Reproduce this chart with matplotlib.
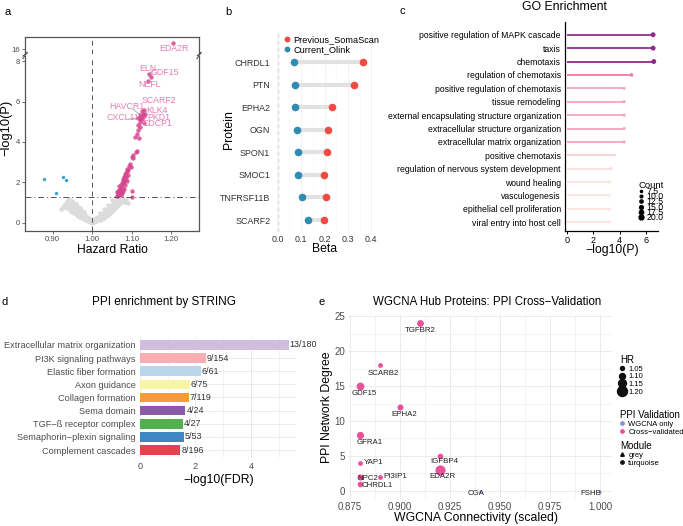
import numpy as np
import matplotlib
matplotlib.use('Agg')
import matplotlib.pyplot as plt
from matplotlib.lines import Line2D
from matplotlib.colors import LinearSegmentedColormap, Normalize

plt.rcParams['font.family'] = ['Liberation Sans', 'DejaVu Sans']

# ---------------- data ----------------
# a: volcano (hazard ratio vs -log10 P)
grey_hr = [0.92, 0.925, 0.93, 0.93, 0.935, 0.935, 0.94, 0.94, 0.94, 0.945, 0.945, 0.945,
           0.95, 0.95, 0.95, 0.95, 0.955, 0.955, 0.955, 0.96, 0.96, 0.96, 0.96, 0.965, 0.965,
           0.965, 0.97, 0.97, 0.97, 0.97, 0.975, 0.975, 0.975, 0.98, 0.98, 0.98, 0.98, 0.985,
           0.985, 0.985, 0.99, 0.99, 0.99, 0.995, 0.995, 0.995, 1.0, 1.0, 1.0, 1.005, 1.005,
           1.005, 1.01, 1.01, 1.01, 1.015, 1.015, 1.015, 1.02, 1.02, 1.02, 1.02, 1.025, 1.025,
           1.025, 1.03, 1.03, 1.03, 1.03, 1.035, 1.035, 1.035, 1.04, 1.04, 1.04, 1.04, 1.045,
           1.045, 1.045, 1.05, 1.05, 1.05, 1.05, 1.055, 1.055, 1.055, 1.06, 1.06, 1.06, 1.06,
           1.065, 1.065, 1.065, 1.07, 1.07, 1.07, 1.075, 1.075, 1.075, 1.08, 1.08, 1.085,
           1.085, 1.09]
grey_p = [0.7, 0.8, 0.95, 0.8, 1.1, 0.75, 0.9, 1.2, 1.05, 0.65, 1.0, 0.8,
          0.55, 0.85, 1.1, 0.7, 0.5, 0.75, 0.95, 0.45, 0.7, 0.95, 0.55, 0.35, 0.6,
          0.8, 0.3, 0.5, 0.75, 0.4, 0.25, 0.45, 0.6, 0.2, 0.35, 0.55, 0.45, 0.15,
          0.3, 0.35, 0.1, 0.25, 0.18, 0.05, 0.2, 0.12, 0.02, 0.12, 0.07, 0.05, 0.18,
          0.12, 0.08, 0.25, 0.15, 0.12, 0.3, 0.2, 0.15, 0.35, 0.5, 0.25, 0.2, 0.45,
          0.35, 0.25, 0.5, 0.7, 0.4, 0.35, 0.65, 0.5, 0.4, 0.7, 0.9, 0.55, 0.5,
          0.85, 0.65, 0.6, 0.9, 1.15, 0.75, 0.7, 1.05, 0.85, 0.8, 1.1, 1.28, 0.95,
          0.9, 1.2, 1.05, 1.0, 1.25, 1.15, 1.1, 1.25, 1.2, 1.15, 1.05, 1.05,
          1.2, 1.0]

up_hr = [1.062, 1.064, 1.066, 1.068, 1.065, 1.07, 1.072, 1.07, 1.074, 1.068, 1.073, 1.076,
         1.075, 1.078, 1.077, 1.08, 1.079, 1.082, 1.081, 1.084, 1.085, 1.083, 1.087, 1.088,
         1.09, 1.086, 1.072, 1.076, 1.078, 1.08, 1.067, 1.082, 1.063, 1.09, 1.088,
         1.092, 1.095, 1.097, 1.1, 1.102, 1.104, 1.11, 1.113, 1.108, 1.112, 1.118, 1.115,
         1.12, 1.116, 1.1, 1.1, 1.12, 1.124, 1.128, 1.122, 1.13, 1.126]
up_p = [1.35, 1.45, 1.4, 1.5, 1.6, 1.45, 1.55, 1.7, 1.65, 1.8, 1.85, 1.75,
        1.95, 1.9, 2.05, 2.0, 2.15, 2.1, 2.25, 2.3, 2.45, 2.4, 2.55, 2.65,
        2.6, 2.2, 1.4, 1.5, 1.6, 1.7, 1.65, 1.85, 1.55, 2.35, 2.05,
        2.8, 2.9, 2.75, 3.25, 3.2, 3.35, 3.5, 3.55, 4.25, 4.4, 4.2, 4.6,
        4.75, 4.85, 1.58, 1.3, 5.0, 5.25, 5.4, 5.15, 5.3, 5.55]

down_hr = [0.879, 0.925, 0.934, 0.909]
down_p = [2.17, 2.29, 2.12, 1.5]

lab_genes = ['ELN', 'GDF15', 'NEFL', 'SCARF2', 'HAVCR1', 'KLK4', 'CXCL11', 'PKD1', 'CDCP1']
lab_hr = [1.144, 1.148, 1.142, 1.130, 1.121, 1.133, 1.117, 1.127, 1.130]
lab_p = [7.35, 7.2, 7.0, 5.6, 5.35, 5.4, 5.2, 5.15, 4.95]
top_gene, top_hr, top_p = 'EDA2R', 1.205, 16.3

# b: beta comparison
proteins = ['CHRDL1', 'PTN', 'EPHA2', 'OGN', 'SPON1', 'SMOC1', 'TNFRSF11B', 'SCARF2']
beta_olink = [0.068, 0.072, 0.076, 0.083, 0.088, 0.085, 0.102, 0.130]
beta_soma = [0.364, 0.324, 0.230, 0.216, 0.210, 0.197, 0.207, 0.197]

# c: GO enrichment
go_terms = ['positive regulation of MAPK cascade', 'taxis', 'chemotaxis',
            'regulation of chemotaxis', 'positive regulation of chemotaxis',
            'tissue remodeling', 'external encapsulating structure organization',
            'extracellular structure organization', 'extracellular matrix organization',
            'positive chemotaxis', 'regulation of nervous system development',
            'wound healing', 'vasculogenesis', 'epithelial cell proliferation',
            'viral entry into host cell']
go_logp = [6.53, 6.53, 6.58, 4.89, 4.33, 4.33, 4.33, 4.33, 4.33,
           3.62, 3.32, 3.24, 3.24, 3.24, 3.24]
go_count = [20, 20, 20, 14, 11, 12, 12, 12, 12, 8, 14, 12, 8, 11, 10]
count_levels = [7.5, 10.0, 12.5, 15.0, 17.5, 20.0]

# d: STRING enrichment
ppi_terms = ['Extracellular matrix organization', 'PI3K signaling pathways',
             'Elastic fiber formation', 'Axon guidance', 'Collagen formation',
             'Sema domain', 'TGF\u2212\u00df receptor complex',
             'Semaphorin\u2212plexin signaling', 'Complement cascades']
ppi_fdr = [5.37, 2.37, 2.20, 1.81, 1.76, 1.64, 1.56, 1.57, 1.46]
ppi_ratio = ['13/180', '9/154', '6/61', '6/75', '7/119', '4/24', '4/27', '5/53', '8/196']
ppi_colors = ['#D3BDDF', '#F9AEB2', '#B8D5EA', '#FAF4A6', '#F99B3B',
              '#8A5BA7', '#53B04F', '#3F87C2', '#E5424B']

# e: WGCNA hubs
hub_genes = ['TGFBR2', 'SCARB2', 'GDF15', 'EPHA2', 'GFRA1', 'IGFBP4', 'EDA2R',
             'YAP1', 'NPC2', 'PI3IP1', 'CHRDL1', 'CGA', 'FSHB']
hub_conn = [0.91, 0.89, 0.88, 0.90, 0.88, 0.92, 0.92, 0.88, 0.88, 0.89, 0.88, 0.94, 1.00]
hub_degree = [24, 18, 15, 12, 8, 5, 3, 4, 2, 2, 1, 0, 0]
hub_hr = [1.12, 1.07, 1.145, 1.10, 1.13, 1.09, 1.205, 1.07, 1.10, 1.07, 1.09, 1.05, 1.05]
hub_valid = ['Cross-validated'] * 11 + ['WGCNA only'] * 2
hub_module = ['turquoise'] * 11 + ['grey'] * 2
hr_levels = [1.05, 1.10, 1.15, 1.20]

# ---------------- layout helpers ----------------
W, H = 683, 526
fig = plt.figure(figsize=(W / 100, H / 100), dpi=100)


def box(l, t, r, b):
    return [l / W, 1 - b / H, (r - l) / W, (b - t) / H]


def ftext(x, y, s, **kw):
    fig.text(x / W, 1 - y / H, s, **kw)


GRID = '#EBEBEB'
TICK = '#4D4D4D'

# ---------------- a ----------------
pink = '#D6468F'
ax_t = fig.add_axes(box(25, 37, 199, 54))
ax_a = fig.add_axes(box(25, 56, 199, 231))
ax_a.scatter(grey_hr, grey_p, s=11, c='#DCDCDC', lw=0)
ax_a.scatter(up_hr, up_p, s=10, c=pink, lw=0, alpha=0.85)
ax_a.scatter(lab_hr, lab_p, s=10, c=pink, lw=0, alpha=0.85)
ax_a.scatter(down_hr, down_p, s=6, c='#3C9FDB', lw=0)
ax_t.scatter([top_hr], [top_p], s=10, c=pink, lw=0, alpha=0.85)

lab_pos = {'ELN': (1.140, 7.62), 'GDF15': (1.183, 7.41), 'NEFL': (1.145, 6.86),
           'SCARF2': (1.168, 6.07), 'HAVCR1': (1.088, 5.73), 'KLK4': (1.163, 5.58),
           'CXCL11': (1.078, 5.23), 'PKD1': (1.168, 5.23), 'CDCP1': (1.165, 4.89)}
for g, x, y in zip(lab_genes, lab_hr, lab_p):
    tx, ty = lab_pos[g]
    ax_a.text(tx, ty, g, color='#E57DB4', fontsize=6.3, ha='center', va='center')
    if g in ('HAVCR1', 'CXCL11', 'ELN'):
        ax_a.plot([tx + 0.014, x], [ty - 0.1, y], color='#777777', lw=0.4)
ax_t.text(1.2075, 16.03, top_gene, color='#E57DB4', fontsize=6.3, ha='center', va='center')

for ax in (ax_a, ax_t):
    ax.axvline(1.0, color='#555555', lw=0.7, ls=(0, (5, 4)))
    ax.set_xlim(0.83, 1.27)
    for s in ax.spines.values():
        s.set_color('#555555')
        s.set_linewidth(0.9)
    ax.tick_params(labelsize=5.6, labelcolor=TICK, color='#555555', length=2, width=0.6, pad=1.5)
ax_a.axhline(1.301, color='#555555', lw=0.7, ls=(0, (6, 3, 1, 3)))
ax_a.set_ylim(-0.4, 8.25)
ax_a.set_yticks([0, 2, 4, 6, 8])
ax_a.set_xticks([0.9, 1.0, 1.1, 1.2])
ax_a.set_xticklabels(['0.90', '1.00', '1.10', '1.20'])
ax_a.spines['top'].set_visible(False)
ax_t.set_ylim(15.75, 16.6)
ax_t.set_yticks([16])
ax_t.set_xticks([])
ax_t.spines['bottom'].set_visible(False)
for xx in (0, 1):
    ax_a.plot([xx - 0.012, xx + 0.012], [0.985, 1.02], transform=ax_a.transAxes,
              color='#555555', lw=0.8, clip_on=False)
    ax_t.plot([xx - 0.012, xx + 0.012], [-0.12, 0.08], transform=ax_t.transAxes,
              color='#555555', lw=0.8, clip_on=False)
ftext(112, 250, 'Hazard Ratio', fontsize=8.7, ha='center', va='center')
ftext(6, 128, '\u2212log10(P)', fontsize=9.3, ha='center', va='center', rotation=90)
ftext(8, 12, 'a', fontsize=8, ha='center', va='center')

# ---------------- b ----------------
ax_b = fig.add_axes(box(273, 32, 376, 232))
yb = np.arange(len(proteins))[::-1]
ax_b.hlines(yb, beta_olink, beta_soma, color='#E2E2E2', lw=3, zorder=1)
ax_b.scatter(beta_soma, yb, s=30, c='#EE4B42', lw=0, zorder=3)
ax_b.scatter(beta_olink, yb, s=30, c='#2E8CB3', lw=0, zorder=3)
ax_b.axvline(0, color='#BBBBBB', lw=1, ls=(0, (3, 2)), zorder=0)
ax_b.set_xlim(-0.02, 0.42)
ax_b.set_ylim(-0.53, 8.33)
ax_b.set_xticks([0, 0.1, 0.2, 0.3, 0.4])
ax_b.set_xticklabels(['0.0', '0.1', '0.2', '0.3', '0.4'])
ax_b.set_xticks([0.05, 0.15, 0.25, 0.35], minor=True)
ax_b.set_yticks(yb)
ax_b.set_yticklabels(proteins)
ax_b.tick_params(axis='both', which='both', length=0, labelsize=6.4, labelcolor='#333333', pad=2)
ax_b.grid(axis='x', which='major', color='#F0F0F0', lw=0.6, zorder=0)
ax_b.grid(axis='x', which='minor', color='#F6F6F6', lw=0.4, zorder=0)
for s in ax_b.spines.values():
    s.set_visible(False)
ax_b.set_axisbelow(True)
hb = [Line2D([], [], marker='o', ls='', color='#EE4B42', ms=3.2),
      Line2D([], [], marker='o', ls='', color='#2E8CB3', ms=3.2)]
ax_b.legend(hb, ['Previous_SomaScan', 'Current_Olink'], loc='upper left',
            bbox_to_anchor=(280 / W, 1 - 31 / H), bbox_transform=fig.transFigure,
            frameon=False, fontsize=6.6, handlelength=0.6, handletextpad=0.4,
            borderpad=0, labelspacing=0.05)
ftext(325, 249, 'Beta', fontsize=8.8, ha='center', va='center')
ftext(229, 130, 'Protein', fontsize=8.8, ha='center', va='center', rotation=90)
ftext(228, 12, 'b', fontsize=8, ha='center', va='center')

# ---------------- c ----------------
ax_c = fig.add_axes(box(565, 22, 658, 231))
yc = np.arange(len(go_terms))[::-1]
go_cmap = LinearSegmentedColormap.from_list(
    'go', [(0, '#FDE6DF'), (0.33, '#F5A5C2'), (0.5, '#EE78A8'), (1, '#8A2A8C')])
go_norm = Normalize(3.2, 6.6)
go_cols = [go_cmap(go_norm(v)) for v in go_logp]
ax_c.hlines(yc, 0, go_logp, colors=go_cols, lw=1.3)


def count_to_ms(c):
    return (1.6 + (c - 5) * 0.22) * 0.72


ax_c.scatter(go_logp, yc, s=[count_to_ms(c) ** 2 for c in go_count], c=go_cols, lw=0, zorder=3)
ax_c.set_xlim(-0.15, 6.9)
ax_c.set_ylim(-0.65, 14.95)
ax_c.set_yticks(yc)
ax_c.set_yticklabels(go_terms)
ax_c.set_xticks([0, 2, 4, 6])
ax_c.tick_params(axis='y', length=0, labelsize=6.2, pad=3)
ax_c.tick_params(axis='x', length=2.5, width=0.7, labelsize=6.5, pad=1)
ax_c.spines['top'].set_visible(False)
ax_c.spines['right'].set_visible(False)
for s in ('left', 'bottom'):
    ax_c.spines[s].set_linewidth(0.9)
hc = [Line2D([], [], marker='o', ls='', color='black', ms=count_to_ms(c)) for c in count_levels]
leg_c = ax_c.legend(hc, [f'{c:.1f}' for c in count_levels], loc='upper left',
                    bbox_to_anchor=(634 / W, 1 - 177 / H), bbox_transform=fig.transFigure,
                    frameon=False, fontsize=6.3, title='Count', title_fontsize=6.8,
                    labelspacing=-0.42, handlelength=0.6, handletextpad=0.3,
                    borderpad=0, alignment='left')
ftext(612, 250, '\u2212log10(P)', fontsize=8.8, ha='center', va='center')
ftext(564, 7, 'GO Enrichment', fontsize=8.8, ha='center', va='center')
ftext(402, 11, 'c', fontsize=8, ha='center', va='center')

# ---------------- d ----------------
ax_d = fig.add_axes(box(140, 337, 296, 458))
yd = np.arange(len(ppi_terms))[::-1]
ax_d.barh(yd, ppi_fdr, height=0.72, color=ppi_colors, zorder=2)
for y, v, r in zip(yd, ppi_fdr, ppi_ratio):
    ax_d.text(v + 0.03, y, r, fontsize=6.4, color='#333333', ha='left', va='center', zorder=3)
ax_d.set_xlim(0, 5.63)
ax_d.set_ylim(-0.6, 8.6)
ax_d.set_yticks(yd)
ax_d.set_yticklabels(ppi_terms)
ax_d.set_xticks([0, 2, 4])
ax_d.set_xticks([1, 3, 5], minor=True)
ax_d.tick_params(axis='both', which='both', length=0, labelsize=6.6, labelcolor=TICK, pad=3)
ax_d.grid(which='major', color=GRID, lw=0.7, zorder=0)
ax_d.grid(axis='x', which='minor', color=GRID, lw=0.4, zorder=0)
for s in ax_d.spines.values():
    s.set_visible(False)
ax_d.set_axisbelow(True)
ftext(219, 480, '\u2212log10(FDR)', fontsize=8.8, ha='center', va='center')
ftext(164, 302, 'PPI enrichment by STRING', fontsize=8.5, ha='center', va='center')
ftext(5, 302, 'd', fontsize=8, ha='center', va='center')

# ---------------- e ----------------
ax_e = fig.add_axes(box(348, 315, 612, 499))
valid_col = {'Cross-validated': '#EA519B', 'WGCNA only': '#8C90D6'}
mod_marker = {'turquoise': 'o', 'grey': '^'}


def hr_to_ms(h):
    return (2.0 + (h - 1.0) * 40) * 0.72


for g, x, y, h, v, m in zip(hub_genes, hub_conn, hub_degree, hub_hr, hub_valid, hub_module):
    ms = hr_to_ms(h) * (0.8 if m == 'grey' else 1.0)
    ax_e.scatter([x], [y], s=ms ** 2, c=valid_col[v], marker=mod_marker[m], lw=0, zorder=3)

e_off = {'TGFBR2': (0, -7, 'center'), 'SCARB2': (3, -8, 'center'), 'GDF15': (4, -7, 'center'),
         'EPHA2': (4, -7, 'center'), 'GFRA1': (10, -8, 'center'), 'IGFBP4': (4, -6, 'center'),
         'EDA2R': (2, -7, 'center'), 'YAP1': (4, 0, 'left'), 'NPC2': (8, -2, 'center'),
         'PI3IP1': (3, 0, 'left'), 'CHRDL1': (2, -2, 'left'), 'CGA': (-4, -3, 'center'),
         'FSHB': (-9, -3, 'center')}
for g, x, y in zip(hub_genes, hub_conn, hub_degree):
    dx, dy, ha = e_off[g]
    ax_e.annotate(g, (x, y), xytext=(dx * 0.72, dy * 0.72), textcoords='offset points',
                  fontsize=5.7, color='#222222', ha=ha, va='center', zorder=4)
ax_e.set_xlim(0.874, 1.006)
ax_e.set_ylim(-1.2, 25.2)
ax_e.set_xticks([0.875, 0.9, 0.925, 0.95, 0.975, 1.0])
ax_e.set_xticklabels(['0.875', '0.900', '0.925', '0.950', '0.975', '1.000'])
ax_e.set_xticks([0.8875, 0.9125, 0.9375, 0.9625, 0.9875], minor=True)
ax_e.set_yticks([0, 5, 10, 15, 20, 25])
ax_e.set_yticks([2.5, 7.5, 12.5, 17.5, 22.5], minor=True)
ax_e.tick_params(axis='both', which='both', length=0, labelsize=7, labelcolor=TICK, pad=2)
ax_e.grid(which='major', color=GRID, lw=0.7, zorder=0)
ax_e.grid(which='minor', color=GRID, lw=0.4, zorder=0)
for s in ax_e.spines.values():
    s.set_visible(False)
ax_e.set_axisbelow(True)

lkw = dict(bbox_transform=fig.transFigure, loc='upper left', frameon=False, fontsize=5.5,
           title_fontsize=7, borderpad=0, handlelength=0.7, handletextpad=0.4,
           alignment='left')
h_hr = [Line2D([], [], marker='o', ls='', color='#111111', ms=hr_to_ms(h)) for h in hr_levels]
leg1 = ax_e.legend(h_hr, [f'{h:.2f}' for h in hr_levels], title='HR',
                   bbox_to_anchor=(616 / W, 1 - 351 / H), labelspacing=0.05, **lkw)
ax_e.add_artist(leg1)
h_v = [Line2D([], [], marker='o', ls='', color=valid_col[k], ms=2.4)
       for k in ('WGCNA only', 'Cross-validated')]
leg2 = ax_e.legend(h_v, ['WGCNA only', 'Cross\u2212validated'], title='PPI Validation',
                   bbox_to_anchor=(616 / W, 1 - 406 / H), labelspacing=0.1, **lkw)
ax_e.add_artist(leg2)
h_m = [Line2D([], [], marker='^', ls='', color='#111111', ms=2.6),
       Line2D([], [], marker='o', ls='', color='#111111', ms=2.4)]
ax_e.legend(h_m, ['grey', 'turquoise'], title='Module',
            bbox_to_anchor=(616 / W, 1 - 437 / H), labelspacing=0.1, **lkw)
ftext(476, 518, 'WGCNA Connectivity (scaled)', fontsize=8.8, ha='center', va='center')
ftext(327, 407, 'PPI Network Degree', fontsize=8.8, ha='center', va='center', rotation=90)
ftext(487, 302, 'WGCNA Hub Proteins: PPI Cross\u2212Validation', fontsize=8.3,
      ha='center', va='center')
ftext(322, 302, 'e', fontsize=8, ha='center', va='center')

fig.savefig('out.png', dpi=100)
